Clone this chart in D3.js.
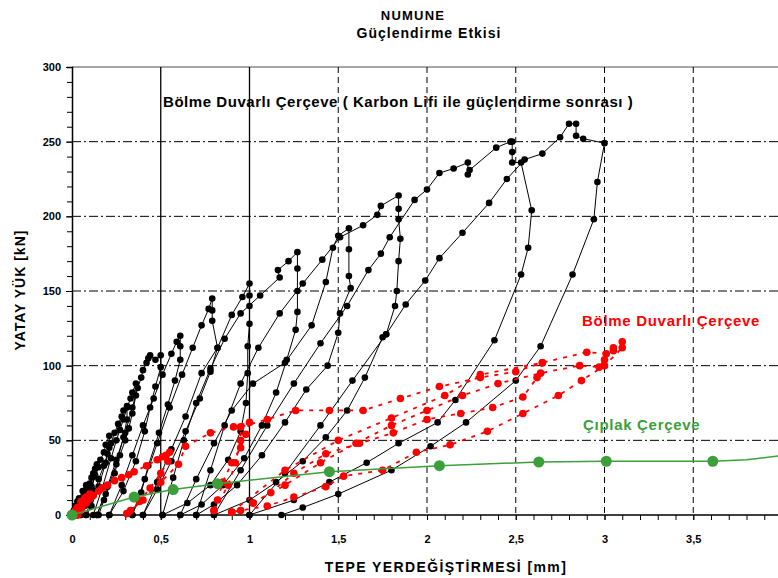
<!DOCTYPE html>
<html>
  <head>
    <title>Numune</title>
    <script src="https://d3js.org/d3.v7.min.js"></script>
    <style>
      body { margin: 0; background: #fff; }
      text { font-family: "Liberation Sans", Arial, sans-serif; }
      .tick text { font-size: 11px; font-weight: bold; fill: #000; }
      .axis .domain { stroke: #000; stroke-width: 1.5px; }
      .axis .tick line { stroke: #000; }
      .lbl { font-weight: bold; }
    </style>
  </head>
  <body>
    <svg width="778" height="578"></svg>
    <script>
      // tick labels
      const xTicks = [0, 0.5, 1, 1.5, 2, 2.5, 3, 3.5];
      const yTicks = [0, 50, 100, 150, 200, 250, 300];

      // Çıplak çerçeve (bare frame), [mm, kN]
      const bare = [[0,0],[0.35,12],[0.57,17],[0.82,21],[1.45,29],[2.07,33],[2.63,35.5],[3.01,36],[3.61,36]];
      const bareTail = [[3.61,36],[3.8,37],[3.98,39.5]];

      // Bölme duvarlı çerçeve (infilled frame) cycles
      const infill = [
        [[0,0],[0.02,3],[0.03,5],[0.05,9],[0.07,11],[0.08,12],[0.1,14],[0.09,10],[0.08,8],[0.05,3],[0.03,0]],
        [[0.03,0],[0.05,4],[0.06,6],[0.08,9],[0.1,11],[0.12,13],[0.15,16],[0.17,18],[0.2,20],[0.24,23],[0.28,25],[0.32,27],[0.35,29],[0.42,33],[0.48,37],[0.51,39],[0.53,40],[0.55,42],[0.54,36],[0.5,28],[0.44,18],[0.38,9],[0.33,3],[0.31,1]],
        [[0.31,1],[0.4,10],[0.5,22],[0.6,34],[0.64,46],[0.78,55],[0.91,59],[1.0,62],[0.98,54],[0.95,45],[0.9,35],[0.85,22],[0.82,10],[0.8,3]],
        [[0.8,3],[0.88,20],[0.92,35],[0.95,50],[0.95,59],[1.1,64],[1.26,70],[1.45,70],[1.64,70],[1.85,78],[2.07,86],[2.3,92],[2.5,96],[2.65,102],[2.62,92],[2.54,79],[2.37,72],[2.19,68],[2.0,64],[1.81,55],[1.62,48],[1.43,41],[1.25,28],[1.12,15],[1.02,8]],
        [[1.02,8],[1.2,20],[1.4,35],[1.6,48],[1.8,60],[2.0,70],[2.2,80],[2.4,88],[2.64,95],[2.86,100],[2.97,99],[3.0,104],[3.05,112],[3.1,116],[3.1,112],[3.0,100],[2.87,90],[2.74,80],[2.54,68],[2.34,56],[2.13,47],[1.94,42],[1.75,30],[1.53,26],[1.43,19],[1.25,12],[1.1,6],[0.95,3],[0.9,2]],
        [[0.9,2],[1.2,30],[1.5,50],[1.8,65],[2.1,80],[2.3,94],[2.65,102],[2.9,109],[3.01,108],[3.05,110]]
      ];

      // Karbon lifi ile güçlendirilmiş çerçeve cycles
      const strengthened = [
        [[0,0],[0.01,3],[0.02,6],[0.03,9],[0.04,11],[0.03,6],[0.02,2],[0.01,0]],
        [[0.01,0],[0.02,6],[0.04,11],[0.06,16],[0.08,20],[0.07,15],[0.05,8],[0.03,2],[0.02,0]],
        [[0.02,0],[0.04,5],[0.05,9],[0.07,13],[0.08,17],[0.1,21],[0.11,25],[0.12,28],[0.13,31],[0.14,34],[0.13,27],[0.11,17],[0.08,7],[0.05,0]],
        [[0.05,0],[0.07,6],[0.09,13],[0.11,19],[0.13,26],[0.15,32],[0.16,37],[0.18,42],[0.19,47],[0.21,53],[0.21,45],[0.19,35],[0.15,19],[0.11,6],[0.08,0]],
        [[0.08,0],[0.1,8],[0.13,16],[0.15,24],[0.18,33],[0.2,41],[0.22,48],[0.24,55],[0.26,61],[0.28,66],[0.29,70],[0.31,73],[0.31,64],[0.29,52],[0.25,34],[0.19,14],[0.14,0]],
        [[0.12,0],[0.17,18],[0.22,38],[0.25,50],[0.27,57],[0.29,64],[0.31,72],[0.33,78],[0.34,82],[0.36,88],[0.36,80],[0.34,68],[0.32,58],[0.3,50],[0.27,40],[0.24,28],[0.18,10],[0.15,0]],
        [[0.14,0],[0.2,19],[0.25,37],[0.3,55],[0.34,72],[0.37,85],[0.39,92],[0.4,97],[0.42,102],[0.43,105],[0.44,107],[0.47,104],[0.5,107],[0.5,99],[0.47,86],[0.44,72],[0.41,56],[0.36,36],[0.29,16],[0.21,0]],
        [[0.21,0],[0.28,20],[0.34,40],[0.4,60],[0.46,78],[0.51,94],[0.56,108],[0.59,116],[0.61,120],[0.61,113],[0.61,104],[0.58,90],[0.54,74],[0.49,55],[0.43,33],[0.39,15],[0.34,0]],
        [[0.34,0],[0.41,24],[0.48,48],[0.55,72],[0.62,94],[0.68,112],[0.73,127],[0.77,138],[0.79,145],[0.79,137],[0.79,130],[0.82,112],[0.78,96],[0.72,78],[0.64,56],[0.56,36],[0.48,17],[0.4,0]],
        [[0.4,0],[0.48,22],[0.56,44],[0.64,66],[0.73,95],[0.82,112],[0.9,134],[0.96,146],[1.0,155],[1.0,147],[1.0,140],[1.0,128],[0.99,113],[0.99,95],[0.98,75],[0.95,56],[0.88,37],[0.78,20],[0.65,8],[0.51,0]],
        [[0.51,0],[0.57,25],[0.63,50],[0.7,75],[0.78,98],[0.86,118],[0.95,135],[1.06,147],[1.17,159],[1.16,164],[1.22,170],[1.27,176],[1.27,165],[1.27,150],[1.27,136],[1.26,124],[1.21,104],[1.15,82],[1.07,60],[0.97,38],[0.85,20],[0.73,7],[0.61,0]],
        [[0.61,0],[0.7,24],[0.8,48],[0.9,70],[1.02,88],[1.2,102],[1.35,127],[1.43,156],[1.47,179],[1.5,187],[1.56,192],[1.56,178],[1.56,160],[1.57,152],[1.51,135],[1.5,122],[1.44,100],[1.32,84],[1.2,62],[1.07,40],[0.93,20],[0.8,7],[0.7,0]],
        [[0.7,0],[0.78,30],[0.86,60],[0.95,88],[1.05,112],[1.17,135],[1.3,155],[1.41,171],[1.51,186],[1.64,194],[1.72,201],[1.74,207],[1.84,214],[1.84,205],[1.84,198],[1.85,185],[1.84,170],[1.83,150],[1.82,140],[1.77,121],[1.75,119],[1.65,92],[1.55,70],[1.43,52],[1.3,36],[1.15,22],[1.0,10],[0.8,0]],
        [[0.8,0],[0.95,30],[1.1,60],[1.25,88],[1.4,115],[1.55,140],[1.67,164],[1.74,175],[1.79,186],[1.93,211],[2.0,218],[2.07,229],[2.15,232],[2.23,236],[2.23,228],[2.24,231],[2.39,246],[2.47,250],[2.48,250],[2.48,243],[2.48,236],[2.53,236],[2.59,204],[2.57,179],[2.53,161],[2.38,117],[2.16,77],[2.06,62],[1.84,48],[1.66,35],[1.45,22],[1.25,10],[1.0,0]],
        [[1.0,0],[1.2,28],[1.4,60],[1.58,90],[1.77,121],[1.88,141],[1.99,157],[2.07,172],[2.2,189],[2.35,209],[2.45,225],[2.55,238],[2.65,242],[2.75,253],[2.8,262],[2.84,262],[2.84,254],[2.88,252],[3.0,249],[2.96,223],[2.94,198],[2.82,161],[2.64,113],[2.5,90],[2.22,62],[2.02,46],[1.8,30],[1.5,14],[1.3,5],[1.18,0]]
      ];

      const svg = d3.select("svg");
      const x = d3.scaleLinear().domain([0, 4]).range([72, 782]);
      const y = d3.scaleLinear().domain([0, 300]).range([515, 67]);
      const line = d3.line().x(d => x(d[0])).y(d => y(d[1]));
      const comma = d => String(d).replace(".", ",");

      // grid
      const grid = svg.append("g");
      grid.selectAll(".hg").data(yTicks.filter(v => v > 0 && v < 300)).enter().append("line")
          .attr("x1", x(0)).attr("x2", 778)
          .attr("y1", d => y(d)).attr("y2", d => y(d))
          .attr("stroke", "#000").attr("stroke-dasharray", "9,3,2,3");
      grid.append("line")
          .attr("x1", x(0)).attr("x2", 778).attr("y1", y(300)).attr("y2", y(300))
          .attr("stroke", "#888").attr("stroke-width", 1.5);
      grid.selectAll(".vg").data(xTicks.filter(v => v > 0)).enter().append("line")
          .attr("x1", d => x(d)).attr("x2", d => x(d))
          .attr("y1", y(300)).attr("y2", y(0))
          .attr("stroke", "#000")
          .attr("stroke-width", d => d <= 1 ? 1.3 : 1)
          .attr("stroke-dasharray", d => d <= 1 ? null : "6,4");

      // axes
      const xMinor = svg.append("g").attr("class", "axis")
          .attr("transform", `translate(0,${y(0)})`)
          .call(d3.axisBottom(x).tickValues(d3.range(0, 40).map(i => i / 10)).tickSize(5).tickFormat(""));
      xMinor.select(".domain").attr("d", `M${x(0)},0H778`);
      svg.append("g").attr("class", "axis")
          .attr("transform", `translate(0,${y(0)})`)
          .call(d3.axisBottom(x).tickValues(xTicks).tickSize(5).tickPadding(15).tickFormat(comma))
          .call(g => g.select(".domain").remove());

      svg.append("g").attr("class", "axis")
          .attr("transform", `translate(${x(0)},0)`)
          .call(d3.axisLeft(y).tickValues(d3.range(0, 301, 10)).tickSize(5).tickFormat(""));
      svg.append("g").attr("class", "axis")
          .attr("transform", `translate(${x(0)},0)`)
          .call(d3.axisLeft(y).tickValues(yTicks).tickSize(6).tickPadding(5))
          .call(g => g.select(".domain").remove());

      // strengthened frame (black)
      const blk = svg.append("g");
      blk.selectAll("path").data(strengthened).enter().append("path")
          .attr("d", line).attr("fill", "none").attr("stroke", "#000").attr("stroke-width", 1);
      blk.selectAll("circle").data(strengthened.flat()).enter().append("circle")
          .attr("cx", d => x(d[0])).attr("cy", d => y(d[1])).attr("r", 3.3).attr("fill", "#000");

      // infilled frame (red)
      const red = svg.append("g");
      red.selectAll("path").data(infill).enter().append("path")
          .attr("d", line).attr("fill", "none").attr("stroke", "#f00")
          .attr("stroke-width", 1.8).attr("stroke-dasharray", "4,6");
      red.selectAll("circle").data(infill.flat()).enter().append("circle")
          .attr("cx", d => x(d[0])).attr("cy", d => y(d[1])).attr("r", 3.8).attr("fill", "#f00");

      // bare frame (green)
      const grn = svg.append("g");
      grn.append("path").datum(bare.concat(bareTail.slice(1)))
          .attr("d", line).attr("fill", "none").attr("stroke", "#3c9f3c").attr("stroke-width", 1.5);
      grn.selectAll("circle").data(bare).enter().append("circle")
          .attr("cx", d => x(d[0])).attr("cy", d => y(d[1])).attr("r", 5.5).attr("fill", "#3c9f3c");

      // texts
      svg.append("text").attr("class", "lbl").attr("x", 413).attr("y", 20)
          .attr("text-anchor", "middle").attr("font-size", 13).attr("letter-spacing", 1.2).text("NUMUNE");
      svg.append("text").attr("class", "lbl").attr("x", 429).attr("y", 38)
          .attr("text-anchor", "middle").attr("font-size", 14).attr("letter-spacing", 1).text("Güçlendirme Etkisi");
      svg.append("text").attr("class", "lbl").attr("x", 163).attr("y", 107)
          .attr("font-size", 15).attr("letter-spacing", 0.55).text("Bölme Duvarlı Çerçeve  ( Karbon Lifi ile güçlendirme sonrası )");
      svg.append("text").attr("class", "lbl").attr("x", 582).attr("y", 326)
          .attr("font-size", 15).attr("letter-spacing", 0.7).attr("fill", "#f00").text("Bölme Duvarlı Çerçeve");
      svg.append("text").attr("class", "lbl").attr("x", 583).attr("y", 430)
          .attr("font-size", 15).attr("letter-spacing", 0.7).attr("fill", "#3c9f3c").text("Çıplak Çerçeve");
      svg.append("text").attr("class", "lbl").attr("x", 446).attr("y", 572)
          .attr("text-anchor", "middle").attr("font-size", 14).attr("letter-spacing", 1.4).text("TEPE YERDEĞİŞTİRMESİ [mm]");
      svg.append("text").attr("class", "lbl")
          .attr("transform", "translate(25,290) rotate(-90)")
          .attr("text-anchor", "middle").attr("font-size", 14).attr("letter-spacing", 1).text("YATAY YÜK [kN]");
    </script>
  </body>
</html>
